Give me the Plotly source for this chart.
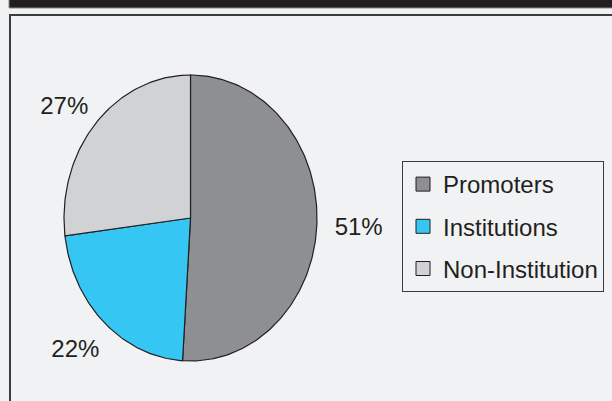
import numpy as np
import plotly.graph_objects as go

# Shareholding pattern
categories = ["Promoters", "Institutions", "Non-Institution"]
shares = [51, 22, 27]
slice_colors = ["#8e8f92", "#35c6f4", "#d1d2d4"]

# Canvas and pie geometry (pixels)
W, H = 612, 401
CX, CY = 190.5, 218.0      # pie centre
RX, RY = 126.5, 143.0      # pie radii (drawn as an ellipse)
LABEL_KX, LABEL_KY = 1.33, 1.22
LABEL_DROP = 5.5           # pixels to lower the percentage labels

BG = "#f1f2f4"
INK = "#231f20"
FONT = "Liberation Sans, Arial, sans-serif"


def px_x(x):
    return x / W


def px_y(y):
    return 1 - y / H


fig = go.Figure()

total = float(sum(shares))
start = 0.0
label_x, label_y, label_txt = [], [], []
for name, val, col in zip(categories, shares, slice_colors):
    frac = val / total
    t = np.linspace(start, start + frac, max(int(frac * 360), 2)) * 2 * np.pi
    xs = np.concatenate([[0.0], np.sin(t), [0.0]])
    ys = np.concatenate([[0.0], np.cos(t), [0.0]])
    fig.add_trace(go.Scatter(
        x=xs, y=ys, mode="lines", fill="toself", fillcolor=col,
        line=dict(color=INK, width=1.2), legendgroup=name,
        showlegend=False, hoverinfo="skip",
    ))
    mid = (start + frac / 2) * 2 * np.pi
    label_x.append(np.sin(mid) * LABEL_KX)
    label_y.append(np.cos(mid) * LABEL_KY - LABEL_DROP / RY)
    label_txt.append(f"{val}%")
    start += frac

# Percentage labels outside the slices
fig.add_trace(go.Scatter(
    x=label_x, y=label_y, mode="text", text=label_txt,
    textposition="middle center",
    textfont=dict(family=FONT, size=24, color=INK),
    showlegend=False, hoverinfo="skip",
))

# Legend entries
for name, col in zip(categories, slice_colors):
    fig.add_trace(go.Scatter(
        x=[None], y=[None], mode="markers", name=name, legendgroup=name,
        marker=dict(symbol="square", size=14, color=col,
                    line=dict(color=INK, width=1)),
    ))

fig.update_layout(
    width=W, height=H,
    margin=dict(l=0, r=0, t=0, b=0),
    paper_bgcolor=BG, plot_bgcolor="rgba(0,0,0,0)",
    font=dict(family=FONT, size=24, color=INK),
    xaxis=dict(range=[-CX / RX, (W - CX) / RX], domain=[0, 1],
               visible=False, fixedrange=True),
    yaxis=dict(range=[-(H - CY) / RY, CY / RY], domain=[0, 1],
               visible=False, fixedrange=True),
    legend=dict(
        x=px_x(402), y=px_y(161), xanchor="left", yanchor="top",
        bgcolor="rgba(0,0,0,0)", bordercolor="#3a3a3a", borderwidth=1,
        font=dict(family=FONT, size=24, color=INK),
        tracegroupgap=8, itemwidth=30,
    ),
    showlegend=True,
    shapes=[
        # dark header band
        dict(type="rect", xref="paper", yref="paper",
             x0=px_x(9), x1=1.01, y0=px_y(8), y1=1.01,
             fillcolor=INK, line=dict(color="#8a8a8a", width=1), layer="below"),
        # panel frame
        dict(type="rect", xref="paper", yref="paper",
             x0=px_x(10), x1=1.02, y0=-0.02, y1=px_y(15),
             fillcolor=BG, line=dict(color="#3c3c3c", width=2), layer="below"),
    ],
)

fig.write_html("out.html")
